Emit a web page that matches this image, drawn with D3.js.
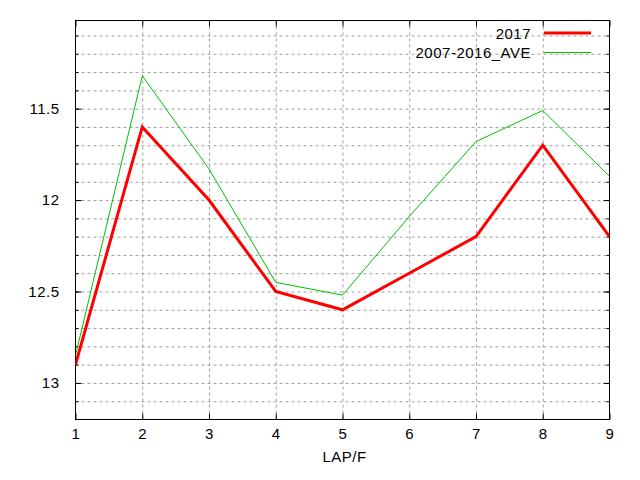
<!DOCTYPE html>
<html>
<head>
<meta charset="utf-8">
<script src="https://cdn.jsdelivr.net/npm/d3@7"></script>
<style>
  body { margin: 0; background: #fff; }
  text { font-family: "Liberation Sans", Arial, sans-serif; font-size: 15px; fill: #000; letter-spacing: 0.5px; }
</style>
</head>
<body>
<svg id="chart" width="640" height="480"></svg>
<script>
const laps = [1, 2, 3, 4, 5, 6, 7, 8, 9];
const year2017 = [12.9, 11.6, 12.0, 12.5, 12.6, 12.4, 12.2, 11.7, 12.2];
const ave = [12.85, 11.32, 11.83, 12.45, 12.52, 12.09, 11.68, 11.51, 11.87];
const seriesNames = ['2017', '2007-2016_AVE'];
const yMajor = [11.5, 12, 12.5, 13];
const yMinor = [11.1, 11.2, 11.3, 11.4, 11.5, 11.6, 11.7, 11.8, 11.9, 12, 12.1, 12.2, 12.3, 12.4, 12.5, 12.6, 12.7, 12.8, 12.9, 13, 13.1];
const xLabel = 'LAP/F';

const pLeft = 75.5, pRight = 609.5, pTop = 20.5, pBottom = 419.5;
const svg = d3.select('#chart');

const x = d3.scaleLinear().domain([1, 9]).range([pLeft, pRight]);
const y = d3.scaleLinear().domain([11.018, 13.2]).range([pTop, pBottom]);

// grid
svg.append('g')
    .attr('transform', `translate(${pLeft},0)`)
    .call(d3.axisLeft(y).tickValues(yMinor).tickSize(-(pRight - pLeft)).tickFormat(''))
    .call(g => g.select('.domain').remove())
    .selectAll('line').attr('stroke', '#a0a0a0').attr('stroke-dasharray', '3,3');
svg.append('g')
    .attr('transform', `translate(0,${pBottom})`)
    .call(d3.axisBottom(x).tickValues(laps.slice(1, -1)).tickSize(-(pBottom - pTop)).tickFormat(''))
    .call(g => g.select('.domain').remove())
    .selectAll('line').attr('stroke', '#a0a0a0').attr('stroke-dasharray', '3,3');

// ticks (inward, mirrored)
function ticks(axis, tr) {
    svg.append('g').attr('transform', tr).call(axis)
        .call(g => g.select('.domain').remove())
        .selectAll('line').attr('stroke', '#000');
}
ticks(d3.axisRight(y).tickValues(yMinor).tickSize(3).tickFormat(''), `translate(${pLeft},0)`);
ticks(d3.axisLeft(y).tickValues(yMinor).tickSize(3).tickFormat(''), `translate(${pRight},0)`);
ticks(d3.axisRight(y).tickValues(yMajor).tickSize(6).tickFormat(''), `translate(${pLeft},0)`);
ticks(d3.axisLeft(y).tickValues(yMajor).tickSize(6).tickFormat(''), `translate(${pRight},0)`);
ticks(d3.axisTop(x).tickValues(laps).tickSize(6).tickFormat(''), `translate(0,${pBottom})`);
ticks(d3.axisBottom(x).tickValues(laps).tickSize(6).tickFormat(''), `translate(0,${pTop})`);

// labels
svg.append('g')
    .attr('transform', `translate(${pLeft - 13},0)`)
    .call(d3.axisLeft(y).tickValues(yMajor).tickSize(0).tickFormat(d3.format('')))
    .call(g => g.select('.domain').remove())
    .selectAll('text').attr('font-size', 15).attr('font-family', '"Liberation Sans", Arial, sans-serif').attr('fill', '#000');
svg.append('g')
    .attr('transform', `translate(0,${pBottom + 6})`)
    .call(d3.axisBottom(x).tickValues(laps).tickSize(0).tickFormat(d3.format('d')))
    .call(g => g.select('.domain').remove())
    .selectAll('text').attr('font-size', 15).attr('font-family', '"Liberation Sans", Arial, sans-serif').attr('fill', '#000');

svg.append('text').attr('x', (pLeft + pRight) / 2 + 2).attr('y', 462)
    .attr('text-anchor', 'middle').text(xLabel);

// frame
svg.append('rect').attr('x', pLeft).attr('y', pTop)
    .attr('width', pRight - pLeft).attr('height', pBottom - pTop)
    .attr('fill', 'none').attr('stroke', '#000');

// series
const line = d3.line().x((d, i) => x(laps[i])).y(d => y(d));
const series = [
    { name: seriesNames[0], values: year2017, color: '#ff0000', width: 3 },
    { name: seriesNames[1], values: ave, color: '#00c000', width: 1 }
];
svg.append('defs').append('clipPath').attr('id', 'clip')
    .append('rect').attr('x', pLeft).attr('y', pTop).attr('width', pRight - pLeft).attr('height', pBottom - pTop);
series.slice().reverse().forEach(s => {
    svg.append('path').datum(s.values)
        .attr('clip-path', 'url(#clip)')
        .attr('d', line).attr('fill', 'none')
        .attr('stroke', s.color).attr('stroke-width', s.width)
        .attr('stroke-linejoin', 'miter');
});

// legend
series.forEach((s, i) => {
    const ly = 33 + i * 19.5;
    svg.append('text').attr('x', 531).attr('y', ly + 5.5)
        .attr('text-anchor', 'end').text(s.name);
    svg.append('line').attr('x1', 544).attr('x2', 591).attr('y1', ly).attr('y2', ly)
        .attr('stroke', s.color).attr('stroke-width', s.width);
});
</script>
</body>
</html>
